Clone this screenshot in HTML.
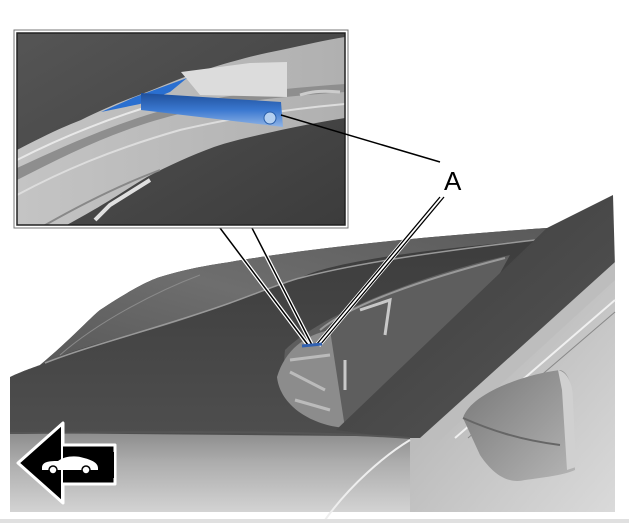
<!DOCTYPE html>
<html><head><style>
html,body{margin:0;padding:0;background:#fff;width:629px;height:523px;overflow:hidden}
svg{display:block}
</style></head><body>
<svg width="629" height="523" viewBox="0 0 629 523" xmlns="http://www.w3.org/2000/svg">
<defs>
<linearGradient id="hood" x1="0" y1="0" x2="0" y2="1"><stop offset="0" stop-color="#8a8a8a"/><stop offset="0.4" stop-color="#adadad"/><stop offset="1" stop-color="#d3d3d3"/></linearGradient>
<linearGradient id="dark" x1="0" y1="0" x2="0" y2="1"><stop offset="0" stop-color="#3c3c3c"/><stop offset="1" stop-color="#4e4e4e"/></linearGradient>
<linearGradient id="rim" x1="0" y1="1" x2="1" y2="0"><stop offset="0" stop-color="#555"/><stop offset="0.5" stop-color="#6e6e6e"/><stop offset="1" stop-color="#5a5a5a"/></linearGradient>
<linearGradient id="pil" x1="0" y1="0" x2="1" y2="1"><stop offset="0" stop-color="#3c3c3c"/><stop offset="1" stop-color="#555"/></linearGradient>
<linearGradient id="right" x1="0" y1="0" x2="1" y2="1"><stop offset="0" stop-color="#aaa"/><stop offset="1" stop-color="#dadada"/></linearGradient>
<linearGradient id="inbg" x1="0" y1="0" x2="1" y2="1"><stop offset="0" stop-color="#555"/><stop offset="1" stop-color="#3c3c3c"/></linearGradient>
<linearGradient id="band" x1="0" y1="0" x2="1" y2="0"><stop offset="0" stop-color="#c4c4c4"/><stop offset="1" stop-color="#b0b0b0"/></linearGradient>
<linearGradient id="blue" x1="0" y1="0" x2="0" y2="1"><stop offset="0" stop-color="#1f4f9a"/><stop offset="0.5" stop-color="#3a78d0"/><stop offset="1" stop-color="#8fb4e6"/></linearGradient>
<linearGradient id="mir" x1="0" y1="0" x2="1" y2="1"><stop offset="0" stop-color="#777"/><stop offset="1" stop-color="#b5b5b5"/></linearGradient>
</defs>
<rect x="10" y="430" width="605" height="82" fill="url(#hood)"/>
<path d="M10 377 C25 370 35 367 40 365 C70 340 90 318 100 310 C130 290 150 280 160 277 C190 268 210 265 230 262 C300 250 400 238 547 228 L547 300 L470 437 L10 433 Z" fill="url(#dark)"/>
<path d="M10 377 C25 370 35 367 40 365 C70 340 90 318 100 310 C130 290 150 280 160 277 C190 268 210 265 230 262 C300 250 400 238 547 228 L535 240 C420 250 330 262 300 278 C270 287 250 295 230 303 C190 318 160 328 130 335 C90 345 60 355 45 363 Z" fill="url(#rim)"/>
<path d="M45 363 C90 345 160 328 230 303 C260 292 290 280 300 278 C360 262 450 250 535 240" stroke="#999" stroke-width="1.5" fill="none"/>
<path d="M60 355 C100 320 160 290 200 275" stroke="#8a8a8a" stroke-width="1" fill="none"/>
<path d="M285 350 C320 315 420 275 510 255 L430 400 L345 425 C300 415 280 390 285 350 Z" fill="#5e5e5e"/>
<path d="M277 377 C285 350 305 335 330 330 L345 428 C310 425 280 405 277 377 Z" fill="#8c8c8c"/>
<path d="M290 360 L330 355 M290 372 L325 390 M295 400 L330 410" stroke="#bbb" stroke-width="3"/>
<path d="M360 310 L390 300 L385 335 M345 360 L345 390" stroke="#c8c8c8" stroke-width="3" fill="none"/>
<path d="M320 330 C350 305 420 280 505 258" stroke="#999" stroke-width="2" fill="none"/>
<path d="M615 267 L615 512 L410 512 L410 438 Z" fill="url(#right)"/>
<path d="M615 300 L455 438" stroke="#f0f0f0" stroke-width="2"/>
<path d="M615 312 L468 438" stroke="#888" stroke-width="1"/>
<path d="M547 228 L613 195 L615 267 L433 438 L397 438 L336 430 Z" fill="url(#pil)"/>
<path d="M615 262 L615 280 L440 440 L420 438 Z" fill="#bdbdbd"/>
<path d="M325 520 C350 485 385 455 410 440" stroke="#eee" stroke-width="2" fill="none"/>
<path d="M10 433 C150 432 300 430 410 438" stroke="#555" stroke-width="2" fill="none"/>
<path d="M463 418 C470 395 520 375 560 370 C570 372 573 390 573 410 L575 470 C565 475 540 478 525 480 C505 485 490 470 480 455 Z" fill="url(#mir)"/>
<path d="M558 370 C568 372 573 385 573 400 L576 467 L567 470 L562 390 Z" fill="#d0d0d0"/>
<path d="M463 418 C490 430 520 440 560 445" stroke="#666" stroke-width="2" fill="none"/>
<rect x="0" y="519" width="629" height="4" fill="#e0e0e0"/>
<path d="M18 463 L63 423 L63 445 L115 445 L115 484 L63 484 L63 503 Z" fill="#000" stroke="#fff" stroke-width="3" stroke-linejoin="round"/>
<path d="M62 426 V500" stroke="#fff" stroke-width="2"/>
<path d="M113 452 V478" stroke="#000" stroke-width="2"/>
<path d="M42 468 C42 462 48 461 58 461 C64 456 76 455 84 458 C92 460 98 463 98 468 L98 470 L42 470 Z" fill="#fff"/>
<circle cx="53" cy="470" r="4" fill="#fff" stroke="#000" stroke-width="1.5"/>
<circle cx="86" cy="470" r="4" fill="#fff" stroke="#000" stroke-width="1.5"/>
<path d="M220 228 L308 345 M252 228 L312 345" stroke="#fff" stroke-width="4"/>
<path d="M220 228 L308 345 M252 228 L312 345" stroke="#000" stroke-width="1.5"/>
<path d="M442 197 L318 345" stroke="#fff" stroke-width="6"/>
<path d="M440 197 L316 345 M444 197 L320 345" stroke="#000" stroke-width="1.3"/>
<path d="M302 346 L322 344" stroke="#3060b0" stroke-width="3"/>
<!-- inset -->
<rect x="14" y="30" width="334" height="198" fill="#fff" stroke="#777" stroke-width="1"/>
<svg x="17" y="33" width="328" height="192" viewBox="17 33 328 192">
<rect x="17" y="33" width="328" height="192" fill="url(#inbg)"/>
<path d="M17 150 C40 138 60 128 81 120 C105 108 125 100 147 92 C170 83 190 74 214 67 C240 59 260 54 281 50 C305 45 325 40 345 37 L345 118 C320 122 300 126 281 130 C255 136 235 140 214 147 C190 156 170 165 147 177 C125 190 105 205 61 228 L17 228 Z" fill="url(#band)"/>
<path d="M17 168 C60 148 100 130 147 115 C200 98 260 90 345 84 L345 92 C260 98 200 106 147 123 C100 138 60 158 17 180 Z" fill="#8e8e8e"/>
<path d="M17 160 C60 138 110 118 160 103" stroke="#e8e8e8" stroke-width="2" fill="none"/>
<path d="M17 195 C60 172 110 150 180 130 C240 116 300 108 345 104" stroke="#ddd" stroke-width="2" fill="none"/>
<path d="M40 228 C80 205 120 185 160 170" stroke="#888" stroke-width="2" fill="none"/>
<path d="M95 220 L110 205 L150 180" stroke="#e0e0e0" stroke-width="4" fill="none"/>
<path d="M181 72 L250 63 L287 62 L287 97 L200 95 Z" fill="#dcdcdc"/>
<path d="M101 112 L135 97 L187 78 L170 92 L140 104 Z" fill="#2a6fd0"/>
<path d="M141 93 L281 102 L283 127 L141 110 Z" fill="url(#blue)"/>
<circle cx="270" cy="118" r="6" fill="#b5d0f0" stroke="#2a5faa"/>
<path d="M300 95 C310 92 320 90 340 92" stroke="#ccc" stroke-width="3" fill="none"/>
</svg>
<rect x="17" y="33" width="328" height="192" fill="none" stroke="#222" stroke-width="1.5"/>
<path d="M281 115 L440 162" stroke="#000" stroke-width="1.5"/>
<text x="444" y="190" font-family="Liberation Sans, sans-serif" font-size="26" fill="#000">A</text>
</svg>
</body></html>
